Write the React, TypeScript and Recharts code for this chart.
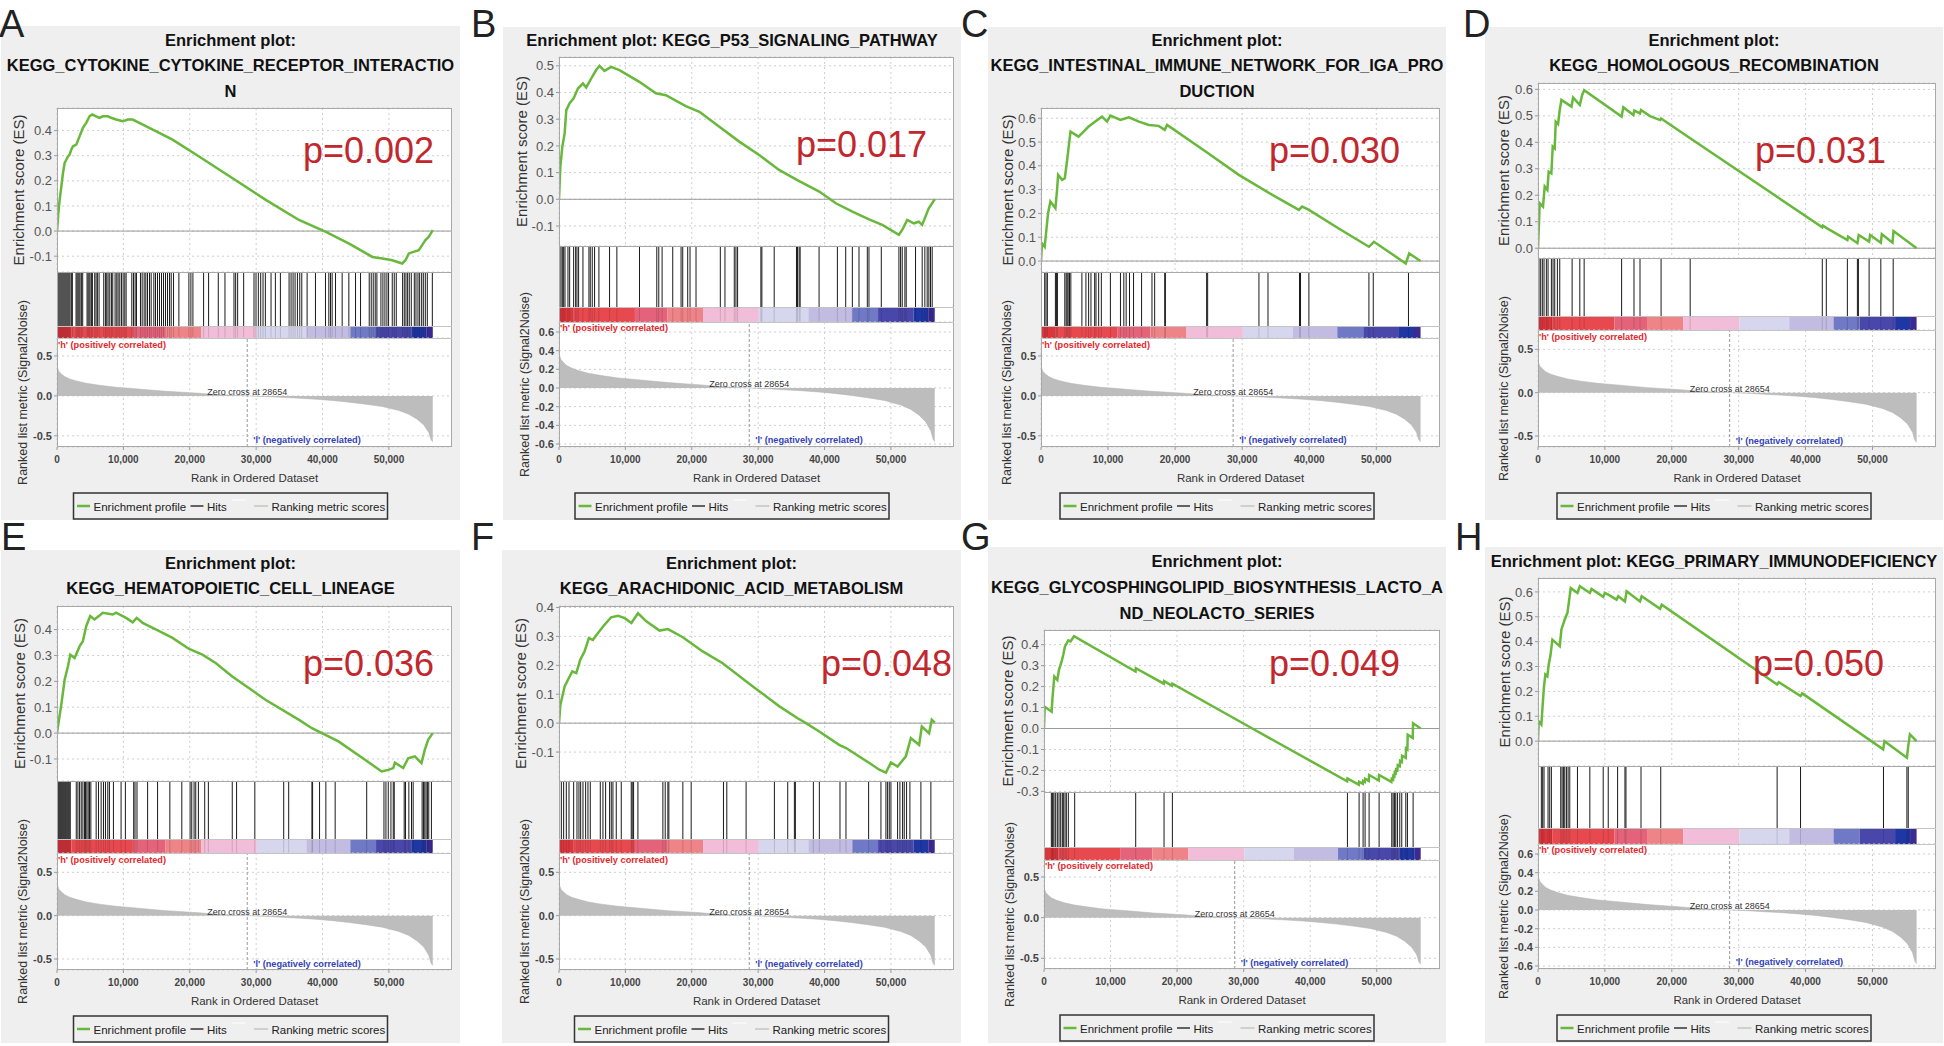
import {
  LineChart,
  Line,
  AreaChart,
  Area,
  ComposedChart,
  XAxis,
  YAxis,
  CartesianGrid,
  ReferenceLine,
  ReferenceArea,
  ReferenceDot,
} from 'recharts';

const FONT = '"Liberation Sans", Arial, Helvetica, sans-serif';
const GREEN = '#68b83c';
const RANK_MAX = 59500;
const Y_W = 50;
const PAD = 8;

const xTicks = [0, 10000, 20000, 30000, 40000, 50000];
const esTicksLow = [-0.1, 0, 0.1, 0.2, 0.3, 0.4];
const esTicksB = [-0.1, 0, 0.1, 0.2, 0.3, 0.4, 0.5];
const esTicksHigh = [0, 0.1, 0.2, 0.3, 0.4, 0.5, 0.6];
const esTicksG = [-0.3, -0.2, -0.1, 0, 0.1, 0.2, 0.3, 0.4];
const metricTicks5 = [-0.5, 0, 0.5];
const metricTicks6 = [-0.6, -0.4, -0.2, 0, 0.2, 0.4, 0.6];

// ranked list metric, shared by every panel (same ranked dataset)
const zeroCross = 28654;
const metricCurve: [number, number][] = [
  [0, 0.38], [100, 0.345], [300, 0.304], [650, 0.275], [1150, 0.242], [1900, 0.213],
  [2900, 0.188], [4400, 0.158], [6400, 0.133], [8900, 0.108], [11400, 0.092], [13900, 0.075],
  [16400, 0.058], [18900, 0.046], [21400, 0.033], [22700, 0.025], [26450, 0.008], [28654, 0],
  [31450, -0.008], [34400, -0.021], [36500, -0.029], [39000, -0.042], [41500, -0.058],
  [44000, -0.079], [46500, -0.104], [49000, -0.133], [51500, -0.183], [53000, -0.229],
  [54250, -0.292], [55250, -0.363], [56000, -0.458], [56350, -0.55], [56600, -0.575],
];

// colour bar under the hits
const barEdges = [0, 2200, 11440, 16300, 21700, 30100, 37560, 44180, 48060, 53380, 55620, 56600];
const barColors = [
  '#dc363d', '#e8494f', '#e4637a', '#ee8388', '#f2bdd8', '#d6d6ee',
  '#c2bbe2', '#6f79c5', '#4a47aa', '#1f37a3', '#3a2a92',
];

// enrichment score curves [rank, ES]
const esA: [number, number][] = [
  [0, 0], [200, 0.071], [400, 0.124], [650, 0.177], [900, 0.231], [1150, 0.271], [1400, 0.284],
  [1650, 0.297], [1900, 0.304], [2150, 0.324], [2400, 0.337], [2900, 0.344], [3400, 0.377],
  [3900, 0.411], [4400, 0.431], [4900, 0.457], [5300, 0.464], [5900, 0.457], [6400, 0.451],
  [6900, 0.457], [7650, 0.457], [8150, 0.451], [8900, 0.444], [9900, 0.437], [10650, 0.444],
  [11400, 0.444], [12400, 0.431], [13900, 0.411], [15400, 0.391], [17400, 0.364], [21400, 0.297],
  [26450, 0.21], [31450, 0.124], [36450, 0.044], [40500, -0.003], [44000, -0.05], [47500, -0.103],
  [49000, -0.109], [50500, -0.116], [52000, -0.129], [52500, -0.116], [53000, -0.089],
  [54500, -0.076], [55000, -0.056], [55500, -0.036], [56000, -0.023], [56600, 0.004],
];
const esB: [number, number][] = [
  [0, 0], [200, 0.122], [500, 0.197], [850, 0.247], [1100, 0.334], [1600, 0.36], [2200, 0.378],
  [2850, 0.415], [3600, 0.434], [4100, 0.419], [5000, 0.459], [5600, 0.484], [6100, 0.5],
  [6850, 0.481], [7850, 0.496], [9100, 0.484], [12100, 0.44], [14600, 0.397], [16100, 0.39],
  [19100, 0.349], [21150, 0.328], [24150, 0.272], [27150, 0.216], [30150, 0.166], [33150, 0.11],
  [35900, 0.072], [39200, 0.029], [41700, -0.015], [44200, -0.046], [46700, -0.075],
  [48700, -0.096], [51200, -0.133], [51700, -0.115], [52450, -0.077], [53450, -0.09],
  [54200, -0.084], [54700, -0.096], [55200, -0.065], [55700, -0.034], [56600, 0],
];
const esC: [number, number][] = [
  [0, 0], [150, 0.074], [550, 0.06], [750, 0.116], [1050, 0.2], [1400, 0.25], [2150, 0.222],
  [2400, 0.3], [2550, 0.362], [3150, 0.341], [3550, 0.348], [3900, 0.425], [4400, 0.544],
  [5600, 0.523], [6350, 0.544], [7100, 0.565], [8100, 0.586], [9100, 0.607], [9850, 0.586],
  [10350, 0.611], [11850, 0.593], [13100, 0.604], [14600, 0.586], [16100, 0.572], [17550, 0.568],
  [18450, 0.551], [18800, 0.572], [24550, 0.46], [29500, 0.362], [34500, 0.278], [38450, 0.215],
  [38950, 0.229], [39950, 0.215], [44400, 0.137], [48900, 0.06], [49650, 0.081], [54400, -0.01],
  [54900, 0.032], [56600, 0],
];
const esD: [number, number][] = [
  [0, 0], [150, 0.094], [250, 0.17], [750, 0.157], [1000, 0.233], [1400, 0.22], [1600, 0.289],
  [2000, 0.283], [2200, 0.384], [2500, 0.377], [2650, 0.478], [3000, 0.469], [3250, 0.522],
  [3500, 0.56], [5000, 0.535], [5250, 0.569], [6250, 0.541], [6600, 0.579], [6900, 0.597],
  [12500, 0.497], [12750, 0.532], [14250, 0.503], [14400, 0.52], [15250, 0.509], [15400, 0.522],
  [16750, 0.499], [18250, 0.484], [18400, 0.49], [22750, 0.415], [42500, 0.079], [42600, 0.085],
  [43100, 0.077], [46250, 0.031], [46350, 0.044], [47750, 0.019], [47950, 0.05], [49500, 0.025],
  [49650, 0.05], [51250, 0.021], [51400, 0.053], [53000, 0.021], [53150, 0.065], [56600, 0],
];
const esE: [number, number][] = [
  [0, 0], [300, 0.052], [650, 0.11], [1150, 0.206], [1650, 0.258], [2000, 0.303], [2650, 0.29],
  [3400, 0.335], [3900, 0.355], [4400, 0.413], [5000, 0.452], [5650, 0.439], [6400, 0.454],
  [6900, 0.465], [8400, 0.458], [8900, 0.465], [10400, 0.445], [11400, 0.428], [12000, 0.445],
  [12900, 0.426], [15400, 0.394], [17400, 0.368], [19900, 0.325], [21900, 0.303], [23900, 0.271],
  [26400, 0.219], [31400, 0.129], [36400, 0.052], [38400, 0.019], [39900, 0], [42400, -0.032],
  [46400, -0.103], [48900, -0.148], [49900, -0.142], [50650, -0.135], [50900, -0.114],
  [52150, -0.135], [52900, -0.097], [53900, -0.09], [54900, -0.116], [55400, -0.065],
  [55900, -0.026], [56600, 0],
];
const esF: [number, number][] = [
  [0, 0], [200, 0.063], [500, 0.092], [850, 0.127], [1350, 0.15], [2000, 0.179], [2600, 0.173],
  [3200, 0.219], [3850, 0.248], [4500, 0.294], [5100, 0.288], [5850, 0.311], [6850, 0.34],
  [7850, 0.366], [8900, 0.371], [9900, 0.363], [10900, 0.346], [11900, 0.38], [13150, 0.352],
  [15150, 0.32], [16400, 0.325], [18650, 0.297], [21650, 0.248], [24650, 0.207], [29200, 0.127],
  [33200, 0.058], [35950, 0.017], [37200, 0], [39200, -0.029], [42200, -0.075], [43250, -0.086],
  [46750, -0.138], [48250, -0.161], [49250, -0.171], [50000, -0.136], [51000, -0.15],
  [52250, -0.115], [53000, -0.052], [54250, -0.075], [54650, -0.012], [55750, -0.035],
  [56150, 0.012], [56600, 0.002],
];
const esG: [number, number][] = [
  [0, 0], [100, 0.104], [1150, 0.08], [1250, 0.136], [1400, 0.192], [1550, 0.248], [2000, 0.232],
  [2250, 0.28], [2650, 0.32], [2900, 0.352], [3150, 0.392], [3650, 0.421], [4000, 0.416],
  [4500, 0.44], [13750, 0.272], [13800, 0.288], [18000, 0.214], [18050, 0.226], [19250, 0.204],
  [19300, 0.214], [31300, 0], [45550, -0.252], [45600, -0.238], [47300, -0.268], [47350, -0.254],
  [47900, -0.264], [47950, -0.25], [48200, -0.255], [48250, -0.24], [48800, -0.25],
  [48850, -0.222], [50300, -0.248], [50350, -0.222], [52200, -0.255], [52250, -0.24],
  [52450, -0.244], [52500, -0.225], [52650, -0.228], [52700, -0.21], [52850, -0.213],
  [52900, -0.195], [53100, -0.198], [53150, -0.175], [53450, -0.18], [53500, -0.155],
  [53750, -0.16], [53800, -0.13], [54350, -0.14], [54400, -0.095], [54600, -0.1], [54650, -0.03],
  [55400, -0.045], [55450, 0.025], [56600, 0],
];
const esH: [number, number][] = [
  [0, 0], [100, 0.08], [500, 0.067], [650, 0.127], [900, 0.221], [1100, 0.268], [1400, 0.261],
  [1600, 0.308], [1850, 0.342], [2150, 0.408], [3250, 0.382], [3500, 0.449], [4000, 0.489],
  [4400, 0.516], [4600, 0.556], [4900, 0.616], [5900, 0.596], [6250, 0.623], [7750, 0.596],
  [8000, 0.612], [9750, 0.58], [10000, 0.596], [10500, 0.589], [11750, 0.569], [12000, 0.583],
  [13000, 0.562], [13250, 0.603], [15250, 0.562], [15500, 0.583], [18250, 0.532], [18500, 0.549],
  [35750, 0.228], [36000, 0.237], [39250, 0.181], [39500, 0.192], [51600, -0.033], [51800, 0],
  [55150, -0.067], [55350, -0.02], [55600, 0.027], [56600, 0],
];

// hit positions (rank of each gene set member)
const hitsA = [
  50, 151, 302, 453, 604, 755, 905, 1056, 1207, 1358, 1509, 1660, 1811, 1962, 2163, 2314,
  2867, 3018, 3169, 3320, 3471, 3672, 3873, 4527, 4678, 4829, 4980, 5181, 5332,
  5684, 5885, 6086, 6338, 7042, 7294, 7495, 7696, 7947, 8199, 8400,
  8752, 9004, 9205, 9456, 9708, 9959, 10211, 10412, 11267, 11519, 11770, 11971,
  12575, 12827, 13128, 13380, 13631, 13933, 14185,
  14587, 14839, 15140, 15442, 15744, 16046, 16348, 16649, 16951, 17203,
  17555, 18360, 19869, 20170, 20472, 22082, 22836, 24295, 25301,
  26659, 26911, 27212, 28118, 29677, 29979, 30331, 30683, 31035, 31387, 32242, 32896, 33651,
  34959, 35260, 35562, 35864, 36216, 36568, 36870,
  37675, 38932, 40441, 40944, 41196, 41447, 41950, 42956, 43962, 44968, 45723,
  47031, 47332, 47634, 47936, 48187, 48791, 49093, 49395, 49696, 49948,
  50501, 50803, 51105, 52061, 52312, 52564, 52815, 53067, 53368,
  53821, 54073, 54374, 54626, 54928, 55179, 55481, 55783, 56537,
];
const hitsB = [
  100, 301, 501, 701, 902, 1353, 1603, 2204, 2505, 2705, 2956, 3607, 4509, 4709, 5010, 5361,
  6012, 7615, 8717, 12124, 14729, 15030, 15531, 17134, 18387, 18637, 19389, 19739, 20641,
  24299, 25000, 26403, 26653, 26904, 30411, 30561, 32415, 35771, 35922, 36172, 36322, 39178,
  41934, 43186, 44188, 45190, 46443, 46693, 48547, 51202, 51453, 51703, 52104, 52304, 53707,
  54709, 55110, 55461, 55711, 55962, 56212,
];
const hitsC = [
  550, 750, 950, 2150, 2300, 2450, 3550, 3750, 3900, 4050, 4250, 4450, 6100, 6700, 7100, 7450,
  8000, 8200, 8600, 9000, 10350, 11850, 12350, 12700, 13200, 13800, 15000, 16550, 16950, 18450,
  18550, 24700, 24850, 32500, 33850, 38550, 38700, 39950, 48900, 49550, 54800,
];
const hitsD = [
  150, 400, 650, 900, 1250, 1500, 2000, 2250, 2500, 2900, 3250, 5100, 6250, 6900, 12500, 14350,
  15250, 18400, 22750, 42500, 43100, 46250, 47750, 47900, 49500, 51250, 53100,
];
const hitsE = [
  50, 200, 350, 500, 650, 800, 950, 1100, 1250, 1400, 1550, 1700, 1850, 2000, 2900, 3150, 3400,
  3650, 3900, 4150, 4300, 4500, 4700, 4900, 5100, 5900, 6250, 6650, 7000, 7300, 7650, 7900, 8500,
  9650, 10300, 11550, 11750, 12050, 13650, 15150, 17000, 18800, 20050, 20300, 20650, 20900,
  21300, 22250, 22800, 26400, 27050, 29800, 34150, 34900, 38400, 38500, 39550, 40500, 41900,
  46650, 49250, 49550, 49900, 50300, 50650, 50800, 52300, 52500, 53000, 53400, 53650, 55000,
  55200, 55400, 55600, 55800, 56000, 56400,
];
const hitsF = [
  351, 702, 1103, 1505, 2207, 2708, 3009, 3260, 3611, 4012, 4363, 4714, 6219, 6620, 7021, 7623,
  7874, 8124, 8626, 9378, 10883, 11033, 11234, 11886, 15647, 15998, 16399, 16550, 18656, 19910,
  24774, 25276, 28184, 32447, 34453, 35456, 35607, 38315, 39217, 42327, 43229, 46640, 48495,
  49247, 49498, 49749, 50000, 51003, 51354, 51755, 52006, 52357, 52858, 54513, 56018,
];
const hitsG = [
  1102, 1253, 1353, 1503, 1754, 2004, 2255, 2505, 2756, 2906, 3156, 3357, 3657, 4609, 13778,
  18036, 19289, 45591, 47345, 47946, 48246, 48848, 50351, 52254, 52455, 52655, 52856, 53106,
  53457, 53757, 54359, 54609, 55461,
];
const hitsH = [
  500, 700, 900, 1500, 1750, 2000, 3400, 3600, 3800, 4000, 4250, 4500, 4750, 5900, 7750, 9750,
  10500, 11900, 13000, 13150, 15400, 18350, 35750, 39250, 51650, 55150, 55350,
];

interface PanelDef {
  letter: string;
  letterX: number;
  letterY: number;
  box: [number, number, number, number];
  title: string[];
  titleY: number[];
  pval: string;
  pX: number;
  pY: number;
  plotX: number;
  plotW: number;
  rows: [number, number, number, number, number]; // es top, es bottom, bar top, metric top, metric bottom
  esDomain: [number, number];
  esTicks: number[];
  mDomain: [number, number];
  mTicks: number[];
  es: [number, number][];
  hits: number[];
  esLabelDx: number;
  legendY: number;
}

const panels: PanelDef[] = [
  {
    letter: 'A', letterX: -1, letterY: 37, box: [1, 26, 459, 494],
    title: ['Enrichment plot:', 'KEGG_CYTOKINE_CYTOKINE_RECEPTOR_INTERACTIO', 'N'], titleY: [45.5, 70.5, 96.5],
    pval: 'p=0.002', pX: 303, pY: 163, plotX: 57, plotW: 395, rows: [108, 272, 326, 338, 447],
    esDomain: [-0.163, 0.49], esTicks: esTicksLow, mDomain: [-0.64, 0.725], mTicks: metricTicks5,
    es: esA, hits: hitsA, esLabelDx: -32.6, legendY: 493,
  },
  {
    letter: 'B', letterX: 471, letterY: 37, box: [503, 27, 458, 493],
    title: ['Enrichment plot: KEGG_P53_SIGNALING_PATHWAY'], titleY: [45.5],
    pval: 'p=0.017', pX: 796, pY: 157, plotX: 559, plotW: 395, rows: [57, 246, 307, 322, 447],
    esDomain: [-0.175, 0.533], esTicks: esTicksB, mDomain: [-0.632, 0.707], mTicks: metricTicks6,
    es: esB, hits: hitsB, esLabelDx: -32.1, legendY: 493,
  },
  {
    letter: 'C', letterX: 961, letterY: 37, box: [988, 27, 458, 493],
    title: ['Enrichment plot:', 'KEGG_INTESTINAL_IMMUNE_NETWORK_FOR_IGA_PRO', 'DUCTION'], titleY: [45.5, 70.5, 96.5],
    pval: 'p=0.030', pX: 1269, pY: 163, plotX: 1041, plotW: 399, rows: [108, 272, 326, 338, 447],
    esDomain: [-0.046, 0.643], esTicks: esTicksHigh, mDomain: [-0.64, 0.725], mTicks: metricTicks5,
    es: esC, hits: hitsC, esLabelDx: -27.6, legendY: 493,
  },
  {
    letter: 'D', letterX: 1463, letterY: 37, box: [1485, 27, 458, 493],
    title: ['Enrichment plot:', 'KEGG_HOMOLOGOUS_RECOMBINATION'], titleY: [45.5, 70.5],
    pval: 'p=0.031', pX: 1755, pY: 163, plotX: 1538, plotW: 398, rows: [83, 258, 316, 330, 447],
    esDomain: [-0.037, 0.624], esTicks: esTicksHigh, mDomain: [-0.627, 0.723], mTicks: metricTicks5,
    es: esD, hits: hitsD, esLabelDx: -28.6, legendY: 493,
  },
  {
    letter: 'E', letterX: 1, letterY: 550, box: [1, 550, 459, 493],
    title: ['Enrichment plot:', 'KEGG_HEMATOPOIETIC_CELL_LINEAGE'], titleY: [568.5, 593.5],
    pval: 'p=0.036', pX: 303, pY: 676, plotX: 57, plotW: 395, rows: [606, 781, 839, 853, 970],
    esDomain: [-0.185, 0.491], esTicks: esTicksLow, mDomain: [-0.627, 0.723], mTicks: metricTicks5,
    es: esE, hits: hitsE, esLabelDx: -32.1, legendY: 1016,
  },
  {
    letter: 'F', letterX: 471, letterY: 550, box: [502, 550, 459, 493],
    title: ['Enrichment plot:', 'KEGG_ARACHIDONIC_ACID_METABOLISM'], titleY: [568.5, 593.5],
    pval: 'p=0.048', pX: 821, pY: 676, plotX: 559, plotW: 395, rows: [606, 781, 839, 853, 970],
    esDomain: [-0.2, 0.405], esTicks: esTicksLow, mDomain: [-0.627, 0.723], mTicks: metricTicks5,
    es: esF, hits: hitsF, esLabelDx: -32.6, legendY: 1016,
  },
  {
    letter: 'G', letterX: 961, letterY: 550, box: [988, 547, 458, 496],
    title: ['Enrichment plot:', 'KEGG_GLYCOSPHINGOLIPID_BIOSYNTHESIS_LACTO_A', 'ND_NEOLACTO_SERIES'],
    titleY: [566.5, 592.5, 618.5],
    pval: 'p=0.049', pX: 1269, pY: 676, plotX: 1044, plotW: 396, rows: [630, 792, 847, 860, 969],
    esDomain: [-0.303, 0.47], esTicks: esTicksG, mDomain: [-0.632, 0.71], mTicks: metricTicks5,
    es: esG, hits: hitsG, esLabelDx: -31.1, legendY: 1015,
  },
  {
    letter: 'H', letterX: 1455, letterY: 550, box: [1485, 547, 458, 496],
    title: ['Enrichment plot: KEGG_PRIMARY_IMMUNODEFICIENCY'], titleY: [566.5],
    pval: 'p=0.050', pX: 1753, pY: 676, plotX: 1538, plotW: 398, rows: [578, 766, 828, 844, 969],
    esDomain: [-0.1, 0.656], esTicks: esTicksHigh, mDomain: [-0.632, 0.707], mTicks: metricTicks6,
    es: esH, hits: hitsH, esLabelDx: -28.1, legendY: 1015,
  },
];

const metricData = metricCurve.map(([rank, m]) => ({ rank, m }));
const fmt1 = (v: number) => v.toFixed(1);
const fmtRank = (v: number) => v.toLocaleString('en-US');
const zeroMargin = { top: 0, right: 0, bottom: 0, left: 0 };
const padMargin = { top: PAD, right: 0, bottom: PAD, left: 0 };
const metricMargin = { top: PAD, right: 0, bottom: 0, left: 0 };

function Panel({ p }: { p: PanelDef }) {
  const [esTop, esBot, cbTop, mTop, mBot] = p.rows;
  const [bx, by, bw, bh] = p.box;
  const cx = bx + bw / 2;
  const esData = p.es.map(([rank, es]) => ({ rank, es }));
  const hitRows = p.hits.map((rank) => ({ rank }));
  const legendX = cx - 157;

  return (
    <>
      <div style={{ position: 'absolute', left: bx, top: by, width: bw, height: bh, background: '#efefef' }} />
      <div style={{ position: 'absolute', left: p.plotX, top: esTop, width: p.plotW, height: mBot - esTop, background: '#fff' }} />

      {/* enrichment score */}
      <div style={{ position: 'absolute', left: p.plotX - Y_W, top: esTop - PAD }}>
        <LineChart width={Y_W + p.plotW} height={esBot - esTop + 2 * PAD} data={esData} margin={padMargin}>
          <CartesianGrid stroke="#cfcfcf" strokeDasharray="2 3" />
          <XAxis type="number" dataKey="rank" domain={[0, RANK_MAX]} ticks={xTicks} allowDataOverflow hide />
          <YAxis
            type="number"
            domain={p.esDomain}
            ticks={p.esTicks}
            allowDataOverflow
            interval={0}
            width={Y_W}
            axisLine={false}
            tickLine={{ stroke: '#999' }}
            tickSize={3}
            tickMargin={2}
            tickFormatter={fmt1}
            tick={{ fontSize: 13, fill: '#555', fontFamily: FONT }}
          />
          <ReferenceLine y={0} stroke="#9a9a9a" strokeWidth={1} />
          <Line type="linear" dataKey="es" stroke={GREEN} strokeWidth={2.5} dot={false} isAnimationActive={false} />
        </LineChart>
      </div>

      {/* hits */}
      <div style={{ position: 'absolute', left: p.plotX, top: esBot }}>
        <ComposedChart width={p.plotW} height={cbTop - esBot} data={hitRows} margin={zeroMargin}>
          <XAxis type="number" dataKey="rank" domain={[0, RANK_MAX]} allowDataOverflow hide />
          <YAxis type="number" domain={[0, 1]} allowDataOverflow hide />
          {p.hits.map((r) => (
            <ReferenceLine key={r} x={r} stroke="#1a1a1a" strokeWidth={1} />
          ))}
        </ComposedChart>
      </div>

      {/* colour bar */}
      <div style={{ position: 'absolute', left: p.plotX, top: cbTop }}>
        <ComposedChart width={p.plotW} height={mTop - cbTop} data={hitRows} margin={zeroMargin}>
          <XAxis type="number" dataKey="rank" domain={[0, RANK_MAX]} allowDataOverflow hide />
          <YAxis type="number" domain={[0, 1]} allowDataOverflow hide />
          {barColors.map((c, i) => (
            <ReferenceArea key={c + i} x1={barEdges[i]} x2={barEdges[i + 1]} y1={0} y2={1} fill={c} fillOpacity={1} stroke="none" />
          ))}
          {p.hits.map((r) => (
            <ReferenceLine key={r} x={r} stroke="#000" strokeOpacity={0.14} strokeWidth={1} />
          ))}
        </ComposedChart>
      </div>

      {/* ranked list metric */}
      <div style={{ position: 'absolute', left: p.plotX - Y_W, top: mTop - PAD }}>
        <AreaChart width={Y_W + p.plotW} height={mBot - mTop + 40 + PAD} data={metricData} margin={metricMargin}>
          <CartesianGrid stroke="#cfcfcf" strokeDasharray="2 3" />
          <XAxis
            type="number"
            dataKey="rank"
            domain={[0, RANK_MAX]}
            ticks={xTicks}
            allowDataOverflow
            interval={0}
            height={40}
            axisLine={false}
            tickLine={{ stroke: '#999' }}
            tickSize={3}
            tickMargin={6}
            tickFormatter={fmtRank}
            tick={{ fontSize: 10, fill: '#444', fontWeight: 'bold', fontFamily: FONT }}
            label={{ value: 'Rank in Ordered Dataset', position: 'insideBottom', offset: 5, fontSize: 11.5, fill: '#333', fontFamily: FONT }}
          />
          <YAxis
            type="number"
            domain={p.mDomain}
            ticks={p.mTicks}
            allowDataOverflow
            interval={0}
            width={Y_W}
            axisLine={false}
            tickLine={{ stroke: '#999' }}
            tickSize={3}
            tickMargin={2}
            tickFormatter={fmt1}
            tick={{ fontSize: 11, fill: '#444', fontWeight: 'bold', fontFamily: FONT }}
          />
          <Area type="linear" dataKey="m" baseValue={0} stroke="#b0b0b0" strokeWidth={0.5} fill="#bdbdbd" fillOpacity={1} isAnimationActive={false} />
          <ReferenceLine x={zeroCross} stroke="#999" strokeDasharray="3 2" strokeWidth={1} />
          <ReferenceDot
            x={zeroCross}
            y={0}
            r={0}
            stroke="none"
            fill="none"
            label={{ value: 'Zero cross at 28654', position: 'top', offset: 1, fontSize: 9, fill: '#333', fontFamily: FONT }}
          />
          <ReferenceDot
            x={0}
            y={0.645}
            r={0}
            stroke="none"
            fill="none"
            label={{ value: "'h' (positively correlated)", position: 'right', offset: 1, fontSize: 9.2, fontWeight: 'bold', fill: '#e2282e', fontFamily: FONT }}
          />
          <ReferenceDot
            x={zeroCross}
            y={-0.55}
            r={0}
            stroke="none"
            fill="none"
            label={{ value: "'l' (negatively correlated)", position: 'right', offset: 6, fontSize: 9.2, fontWeight: 'bold', fill: '#3343b8', fontFamily: FONT }}
          />
        </AreaChart>
      </div>

      {/* frame, titles, labels, legend */}
      <svg
        width={1944}
        height={1046}
        style={{ position: 'absolute', left: 0, top: 0, pointerEvents: 'none', overflow: 'visible' }}
        fontFamily={FONT}
      >
        <rect x={p.plotX + 0.5} y={esTop + 0.5} width={p.plotW - 1} height={mBot - esTop - 1} fill="none" stroke="#a8a8a8" />
        <line x1={p.plotX} x2={p.plotX + p.plotW} y1={esBot + 0.5} y2={esBot + 0.5} stroke="#a8a8a8" />
        <line x1={p.plotX} x2={p.plotX + p.plotW} y1={cbTop + 0.5} y2={cbTop + 0.5} stroke="#c4c4c4" />
        <line x1={p.plotX} x2={p.plotX + p.plotW} y1={mTop + 0.5} y2={mTop + 0.5} stroke="#c4c4c4" />

        <text x={p.letterX} y={p.letterY} fontSize={38} fill="#222">{p.letter}</text>
        {p.title.map((t, i) => (
          <text key={t} x={cx} y={p.titleY[i]} textAnchor="middle" fontSize={16.5} fontWeight="bold" fill="#111">
            {t}
          </text>
        ))}
        <text x={p.pX} y={p.pY} fontSize={36} fill="#c1272d">{p.pval}</text>

        <text
          x={p.plotX + p.esLabelDx}
          y={(esTop + esBot) / 2}
          transform={`rotate(-90 ${p.plotX + p.esLabelDx} ${(esTop + esBot) / 2})`}
          textAnchor="middle"
          fontSize={15}
          fill="#333"
        >
          Enrichment score (ES)
        </text>
        <text
          x={p.plotX - 29.8}
          y={(mTop + mBot) / 2}
          transform={`rotate(-90 ${p.plotX - 29.8} ${(mTop + mBot) / 2})`}
          textAnchor="middle"
          fontSize={12.5}
          fill="#333"
        >
          Ranked list metric (Signal2Noise)
        </text>

        <g transform={`translate(${legendX},${p.legendY})`}>
          <rect x={0} y={0} width={314} height={26} fill="none" stroke="#333" strokeWidth={1.5} />
          <line x1={3.5} x2={16.5} y1={13} y2={13} stroke={GREEN} strokeWidth={2.5} />
          <text x={20} y={17.5} fontSize={11.5} fill="#222">Enrichment profile</text>
          <line x1={117} x2={130} y1={13} y2={13} stroke="#333" strokeWidth={1.5} />
          <text x={133.5} y={17.5} fontSize={11.5} fill="#222">Hits</text>
          <line x1={158} x2={172} y1={7} y2={7} stroke="#fafafa" strokeWidth={1.5} />
          <line x1={180.5} x2={194.5} y1={13} y2={13} stroke="#cfcfcf" strokeWidth={2} />
          <text x={198} y={17.5} fontSize={11.5} fill="#222">Ranking metric scores</text>
        </g>
      </svg>
    </>
  );
}

export default function App() {
  return (
    <div
      style={{
        position: 'absolute',
        left: 0,
        top: 0,
        width: 1944,
        height: 1046,
        background: '#fff',
        overflow: 'hidden',
        fontFamily: FONT,
      }}
    >
      {panels.map((p) => (
        <Panel key={p.letter} p={p} />
      ))}
    </div>
  );
}
